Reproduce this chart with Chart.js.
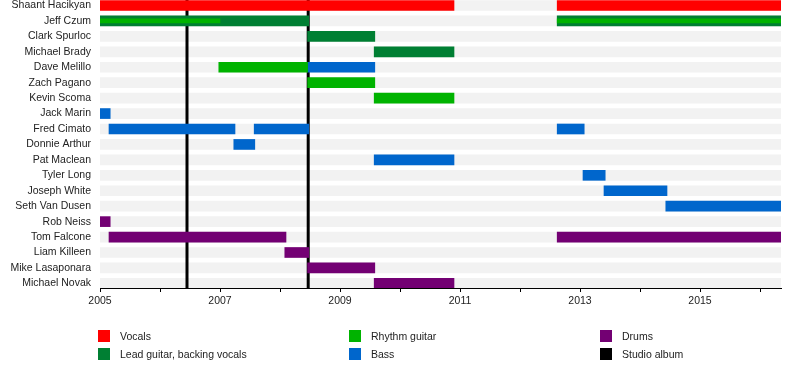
<!DOCTYPE html>
<html>
<head>
<meta charset="utf-8">
<script src="https://cdn.jsdelivr.net/npm/chart.js@4/dist/chart.umd.min.js"></script>
<style>
    body { margin: 0; background: #fff; }
    #wrap { position: relative; width: 800px; height: 378px; overflow: hidden; }
    #timeline { position: absolute; left: 0; top: 0; }
    .item { position: absolute; font: 10.5px "Liberation Sans", Arial, sans-serif; color: #222; height: 12px; line-height: 12px; white-space: nowrap; }
    .item span { position: absolute; left: 0; top: 0; width: 12px; height: 12px; }
    .item b { font-weight: normal; position: absolute; left: 22px; top: 0; }
</style>
</head>
<body>
<div id="wrap">
    <canvas id="timeline" width="800" height="378"></canvas>
    <div id="legend"></div>
</div>
<script>
// membres du groupe, de haut en bas
const members = ['Shaant Hacikyan', 'Jeff Czum', 'Clark Spurloc', 'Michael Brady', 'Dave Melillo',
    'Zach Pagano', 'Kevin Scoma', 'Jack Marin', 'Fred Cimato', 'Donnie Arthur', 'Pat Maclean',
    'Tyler Long', 'Joseph White', 'Seth Van Dusen', 'Rob Neiss', 'Tom Falcone', 'Liam Killeen',
    'Mike Lasaponara', 'Michael Novak'];

const startYear = 2005;
const endYear = 2016.35;
const yearTicks = [2005, 2006, 2007, 2008, 2009, 2010, 2011, 2012, 2013, 2014, 2015, 2016];

// periodes [membre, debut, fin] en annees decimales
const vocals = [['Shaant Hacikyan', 2005.0, 2010.9], ['Shaant Hacikyan', 2012.62, 2016.35]];
const leadGuitar = [['Jeff Czum', 2005.0, 2008.48], ['Jeff Czum', 2012.62, 2016.35],
    ['Clark Spurloc', 2008.46, 2009.58], ['Michael Brady', 2009.57, 2010.9]];
const rhythmGuitar = [['Dave Melillo', 2006.98, 2008.46], ['Zach Pagano', 2008.46, 2009.58],
    ['Kevin Scoma', 2009.57, 2010.9]];
// guitare rythmique en second role (barre fine)
const rhythmGuitarSecondary = [['Jeff Czum', 2005.0, 2007.0], ['Jeff Czum', 2012.62, 2016.35]];
const bass = [['Dave Melillo', 2008.46, 2009.58], ['Jack Marin', 2005.0, 2005.17],
    ['Fred Cimato', 2005.15, 2007.25], ['Fred Cimato', 2007.57, 2008.48], ['Fred Cimato', 2012.62, 2013.07],
    ['Donnie Arthur', 2007.23, 2007.58], ['Pat Maclean', 2009.57, 2010.9], ['Tyler Long', 2013.05, 2013.42],
    ['Joseph White', 2013.4, 2014.45], ['Seth Van Dusen', 2014.43, 2016.35]];
const drums = [['Rob Neiss', 2005.0, 2005.17], ['Tom Falcone', 2005.15, 2008.1], ['Tom Falcone', 2012.62, 2016.35],
    ['Liam Killeen', 2008.08, 2008.48], ['Mike Lasaponara', 2008.46, 2009.58], ['Michael Novak', 2009.57, 2010.9]];
// albums studio
const albums = [2006.45, 2008.47];

const legendLabels = ['Vocals', 'Lead guitar, backing vocals', 'Rhythm guitar', 'Bass', 'Drums', 'Studio album'];
const colors = {
    'Vocals': '#ff0000',
    'Lead guitar, backing vocals': '#007f33',
    'Rhythm guitar': '#00b300',
    'Bass': '#0066cc',
    'Drums': '#730073',
    'Studio album': '#000000'
};

function toPoints(spans) {
    return spans.map(s => ({ y: members.indexOf(s[0]), x: [s[1], s[2]] }));
}

function barSet(label, spans, color, order, thickness) {
    return {
        label: label,
        data: toPoints(spans),
        backgroundColor: color,
        borderWidth: 0,
        borderSkipped: false,
        grouped: false,
        barThickness: thickness,
        order: order
    };
}

const background = members.map(m => [m, startYear, endYear]);

// lignes verticales des albums, dessinees apres le fond gris
const albumLines = {
    id: 'albumLines',
    afterDatasetDraw(chart, args) {
        if (args.index !== 0) return;
        const ctx = chart.ctx;
        const area = chart.chartArea;
        ctx.save();
        ctx.strokeStyle = colors['Studio album'];
        ctx.lineWidth = 3;
        albums.forEach(a => {
            const x = chart.scales.x.getPixelForValue(a);
            ctx.beginPath();
            ctx.moveTo(x, area.top);
            ctx.lineTo(x, area.bottom);
            ctx.stroke();
        });
        ctx.restore();
    }
};

Chart.defaults.font.family = '"Liberation Sans", Arial, sans-serif';
Chart.defaults.font.size = 10.5;
Chart.defaults.color = '#222';

const ctx = document.getElementById('timeline').getContext('2d');
const chart = new Chart(ctx, {
    type: 'bar',
    data: {
        datasets: [
            barSet('bg', background, '#f2f2f2', 10, 10),
            barSet('Vocals', vocals, colors['Vocals'], 4, 10),
            barSet('Lead guitar, backing vocals', leadGuitar, colors['Lead guitar, backing vocals'], 5, 10),
            barSet('Rhythm guitar', rhythmGuitar, colors['Rhythm guitar'], 2, 10),
            barSet('Rhythm guitar 2', rhythmGuitarSecondary, colors['Rhythm guitar'], 1, 4),
            barSet('Bass', bass, colors['Bass'], 3, 10),
            barSet('Drums', drums, colors['Drums'], 3, 10)
        ]
    },
    options: {
        indexAxis: 'y',
        responsive: false,
        animation: false,
        devicePixelRatio: 1,
        layout: { padding: { top: 0, right: 19, left: 0, bottom: 0 } },
        plugins: {
            legend: { display: false },
            tooltip: { enabled: false }
        },
        scales: {
            x: {
                type: 'linear',
                min: startYear,
                max: endYear,
                afterBuildTicks: scale => { scale.ticks = yearTicks.map(v => ({ value: v })); },
                afterFit: scale => { scale.height = 90; scale.paddingLeft = 0; scale.paddingRight = 0; },
                grid: { drawOnChartArea: false, drawTicks: true, tickLength: 4, color: '#000' },
                border: { display: true, color: '#000', width: 1 },
                ticks: {
                    padding: 3,
                    maxRotation: 0,
                    autoSkip: false,
                    callback: v => (v % 2 === 1 ? String(v) : '')
                }
            },
            y: {
                type: 'linear',
                reverse: true,
                offset: false,
                min: -0.356,
                max: 18.3,
                afterBuildTicks: scale => { scale.ticks = members.map((m, i) => ({ value: i })); },
                afterFit: scale => { scale.width = 100; scale.paddingTop = 0; scale.paddingBottom = 0; },
                grid: { display: false, drawTicks: false, offset: false },
                border: { display: false },
                ticks: {
                    autoSkip: false,
                    padding: 9,
                    callback: v => members[v]
                }
            }
        }
    },
    plugins: [albumLines]
});

// legende en trois colonnes
const legendPos = [[98, 330], [98, 348], [349, 330], [349, 348], [600, 330], [600, 348]];
const legend = document.getElementById('legend');
legendLabels.forEach((label, i) => {
    const div = document.createElement('div');
    div.className = 'item';
    div.style.left = legendPos[i][0] + 'px';
    div.style.top = legendPos[i][1] + 'px';
    div.innerHTML = '<span style="background:' + colors[label] + '"></span><b>' + label + '</b>';
    legend.appendChild(div);
});
</script>
</body>
</html>
